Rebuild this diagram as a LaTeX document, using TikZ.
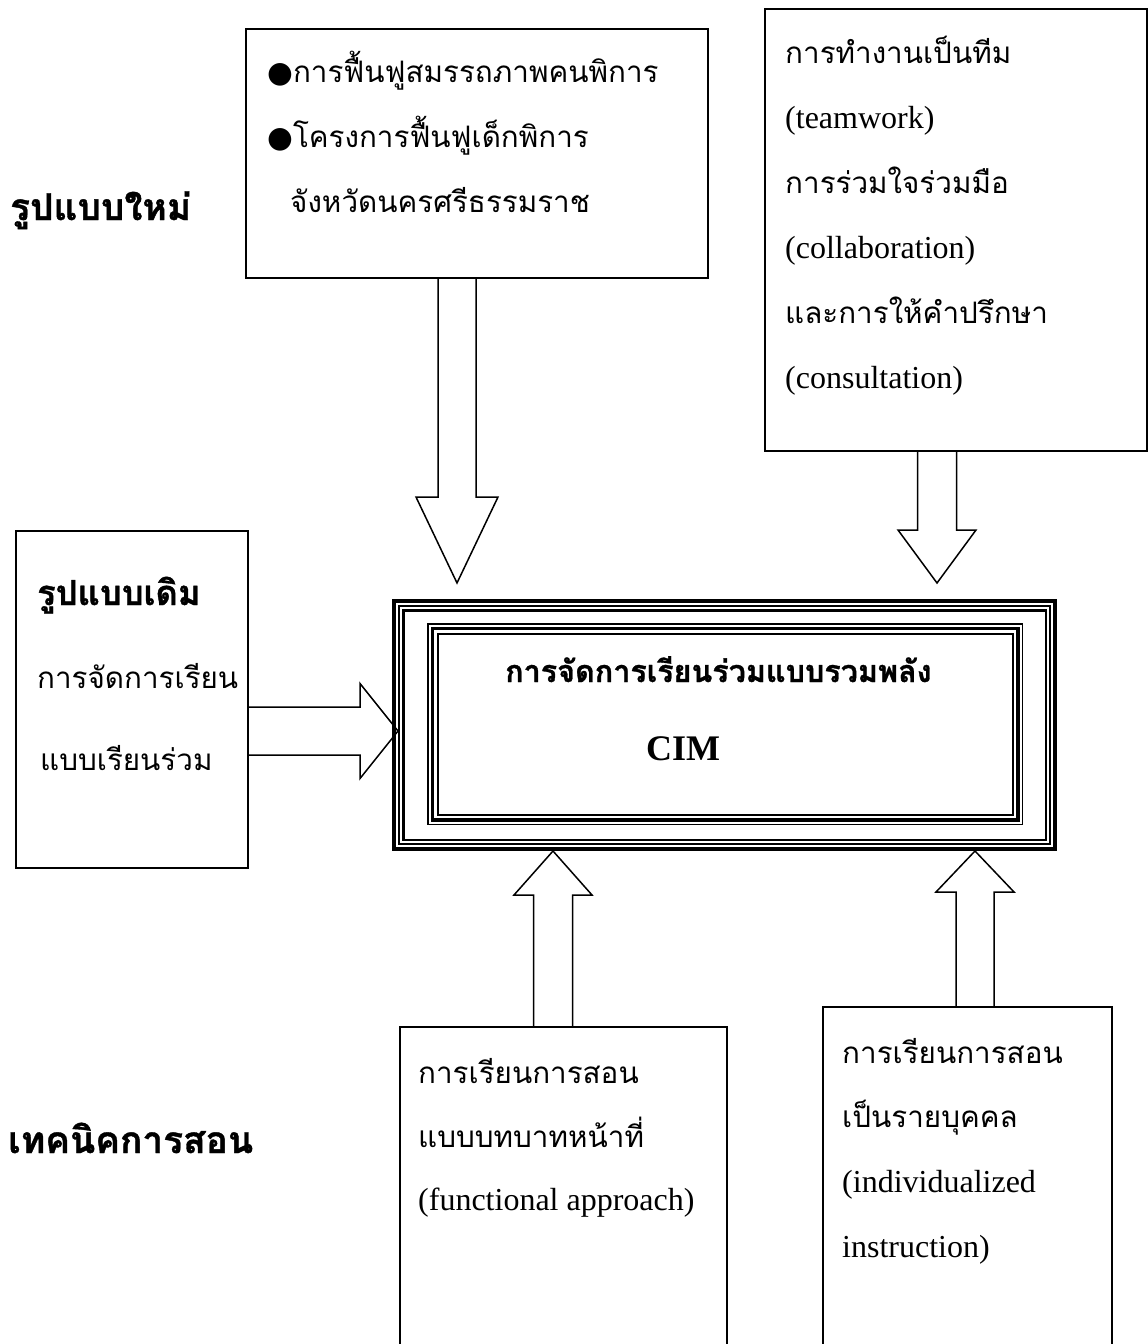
\documentclass[tikz,border=0pt]{standalone}
\usepackage{fontspec}
\setmainfont{Liberation Serif}
\newfontfamily\thaifont[Script=Thai, BoldFeatures={FakeBold=1}]{Loma}
\newfontfamily\dotfont{DejaVu Sans}
\usetikzlibrary{calc}
\tikzset{
  box/.style={draw, line width=1.5pt, inner sep=0pt, anchor=north west},
  thr/.style={anchor=base west, inner sep=0pt, font=\thaifont\fontsize{29.6}{31}\selectfont},
  thh/.style={anchor=base west, inner sep=0pt, font=\thaifont\bfseries\fontsize{37}{39}\selectfont},
  thc/.style={anchor=base west, inner sep=0pt, font=\thaifont\bfseries\fontsize{30.5}{32}\selectfont},
  enr/.style={anchor=base west, inner sep=0pt, font=\fontsize{32}{34}\selectfont},
  enb/.style={anchor=base west, inner sep=0pt, font=\bfseries\fontsize{36}{38}\selectfont},
  barrow/.style={draw, line width=1.5pt, line join=miter},
}
\begin{document}
\begin{tikzpicture}[x=1pt,y=-1pt]
\useasboundingbox (0,0) rectangle (1148,1344);
\fill[white] (0,0) rectangle (1148,1344);

% boxes
\node[box, minimum width=462pt, minimum height=249pt] (nb) at (245,28) {};
\node[box, minimum width=382pt, minimum height=442pt] (tr) at (764,8) {};
\node[box, minimum width=232pt, minimum height=337pt] (lb) at (15,530) {};
\node[box, minimum width=327pt, minimum height=330pt] (bm) at (399,1026) {};
\node[box, minimum width=289pt, minimum height=350pt] (br) at (822,1006) {};
\node[inner sep=0pt, minimum width=665pt, minimum height=252pt, anchor=north west] (cim) at (392,599) {};

% arrow tips
\coordinate (t1) at (457,583);
\coordinate (t2) at (937,583);
\coordinate (t3) at (398,731);
\coordinate (t4) at (553,851);
\coordinate (t5) at (975,851);

% block arrows
\draw[barrow] ($(nb.south -| t1)+(-19,0)$) -- ($(t1)+(-19,-86)$) -- ($(t1)+(-41,-86)$) -- (t1)
  -- ($(t1)+(41,-86)$) -- ($(t1)+(19,-86)$) -- ($(nb.south -| t1)+(19,0)$);
\draw[barrow] ($(tr.south -| t2)+(-19.5,0)$) -- ($(t2)+(-19.5,-53)$) -- ($(t2)+(-39,-53)$) -- (t2)
  -- ($(t2)+(39,-53)$) -- ($(t2)+(19.5,-53)$) -- ($(tr.south -| t2)+(19.5,0)$);
\draw[barrow] ($(lb.east |- t3)+(0,-24)$) -- ($(t3)+(-38,-24)$) -- ($(t3)+(-38,-47.5)$) -- (t3)
  -- ($(t3)+(-38,47.5)$) -- ($(t3)+(-38,24)$) -- ($(lb.east |- t3)+(0,24)$);
\draw[barrow] ($(bm.north -| t4)+(-19.5,0)$) -- ($(t4)+(-19.5,44)$) -- ($(t4)+(-39,44)$) -- (t4)
  -- ($(t4)+(39,44)$) -- ($(t4)+(19.5,44)$) -- ($(bm.north -| t4)+(19.5,0)$);
\draw[barrow] ($(br.north -| t5)+(-19,0)$) -- ($(t5)+(-19,41)$) -- ($(t5)+(-39,41)$) -- (t5)
  -- ($(t5)+(39,41)$) -- ($(t5)+(19,41)$) -- ($(br.north -| t5)+(19,0)$);

% central multi-line frame
\foreach \o/\w in {2/4, 7.2/2.3, 11.5/2.4}
  \draw[line width=\w pt] ($(cim.north west)+(\o,\o)$) rectangle ($(cim.south east)+(-\o,-\o)$);
\coordinate (in1) at ($(cim.north west)+(35,24)$);
\coordinate (in2) at ($(cim.south east)+(-34,-26)$);
\foreach \o/\w in {0.8/1.6, 5.3/3.4, 10.8/2.2}
  \draw[line width=\w pt] ($(in1)+(\o,\o)$) rectangle ($(in2)+(-\o,-\o)$);

% headings
\node[thh] (h1) at (10,220) {รูปแบบใหม่};
\node[thh, font=\thaifont\bfseries\fontsize{34.5}{36}\selectfont] (h2) at (37,605) {รูปแบบเดิม};
\node[thh] (h3) at (8,1153) {เทคนิคการสอน};

% top middle box
\node[thr] (nb1) at (267,82) {{\dotfont ●}การฟื้นฟูสมรรถภาพคนพิการ};
\node[thr] (nb2) at (267,147) {{\dotfont ●}โครงการฟื้นฟูเด็กพิการ};
\node[thr] (nb3) at (290,212) {จังหวัดนครศรีธรรมราช};

% top right box
\node[thr] (tr1) at (785,63) {การทำงานเป็นทีม};
\node[enr] (tr2) at (785,128) {(teamwork)};
\node[thr] (tr3) at (785,193) {การร่วมใจร่วมมือ};
\node[enr] (tr4) at (785,258) {(collaboration)};
\node[thr] (tr5) at (785,323) {และการให้คำปรึกษา};
\node[enr] (tr6) at (785,388) {(consultation)};

% left box
\node[thr] (lb1) at (37,688) {การจัดการเรียน};
\node[thr] (lb2) at (40,770) {แบบเรียนร่วม};

% center
\node[thc] (c1) at (505,682) {การจัดการเรียนร่วมแบบรวมพลัง};
\node[enb] (c2) at (646,760) {CIM};

% bottom middle
\node[thr] (bm1) at (418,1083) {การเรียนการสอน};
\node[thr] (bm2) at (418,1147) {แบบบทบาทหน้าที่};
\node[enr] (bm3) at (418,1210) {(functional approach)};

% bottom right
\node[thr] (br1) at (842,1063) {การเรียนการสอน};
\node[thr] (br2) at (842,1127) {เป็นรายบุคคล};
\node[enr] (br3) at (842,1192) {(individualized};
\node[enr] (br4) at (842,1257) {instruction)};
\end{tikzpicture}
\end{document}
